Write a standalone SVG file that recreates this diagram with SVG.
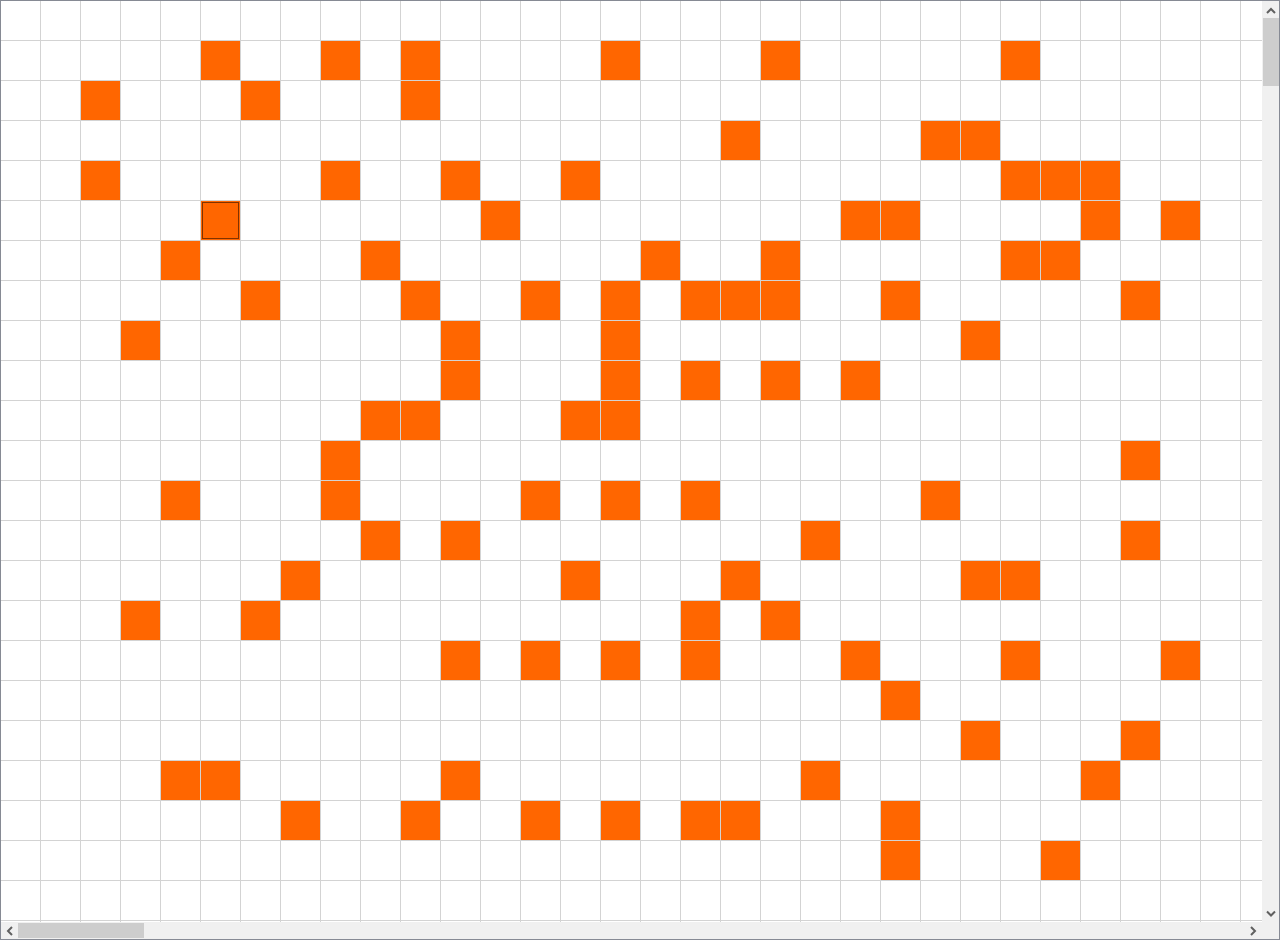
<svg xmlns="http://www.w3.org/2000/svg" width="1280" height="940" viewBox="0 0 1280 940">
<style>
.on{fill:#ff6600}
.track{fill:#f0f0f0}
.thumb{fill:#cdcdcd}
.arrow{fill:none;stroke:#606060;stroke-width:2}
</style>
<defs>
<pattern id="grid" patternUnits="userSpaceOnUse" x="0" y="0" width="40" height="40">
<path d="M0 0.5H40M0.5 0V40" stroke="#d3d3d3" stroke-width="1" fill="none"/>
</pattern>
</defs>
<rect x="0" y="0" width="1280" height="940" fill="#ffffff"/>
<rect x="0" y="0" width="1262" height="922" fill="url(#grid)"/>
<g id="cells">
<rect class="on" x="201" y="41" width="39" height="39"/>
<rect class="on" x="321" y="41" width="39" height="39"/>
<rect class="on" x="401" y="41" width="39" height="39"/>
<rect class="on" x="601" y="41" width="39" height="39"/>
<rect class="on" x="761" y="41" width="39" height="39"/>
<rect class="on" x="1001" y="41" width="39" height="39"/>
<rect class="on" x="81" y="81" width="39" height="39"/>
<rect class="on" x="241" y="81" width="39" height="39"/>
<rect class="on" x="401" y="81" width="39" height="39"/>
<rect class="on" x="721" y="121" width="39" height="39"/>
<rect class="on" x="921" y="121" width="39" height="39"/>
<rect class="on" x="961" y="121" width="39" height="39"/>
<rect class="on" x="81" y="161" width="39" height="39"/>
<rect class="on" x="321" y="161" width="39" height="39"/>
<rect class="on" x="441" y="161" width="39" height="39"/>
<rect class="on" x="561" y="161" width="39" height="39"/>
<rect class="on" x="1001" y="161" width="39" height="39"/>
<rect class="on" x="1041" y="161" width="39" height="39"/>
<rect class="on" x="1081" y="161" width="39" height="39"/>
<rect class="on" x="201" y="201" width="39" height="39"/>
<rect class="on" x="481" y="201" width="39" height="39"/>
<rect class="on" x="841" y="201" width="39" height="39"/>
<rect class="on" x="881" y="201" width="39" height="39"/>
<rect class="on" x="1081" y="201" width="39" height="39"/>
<rect class="on" x="1161" y="201" width="39" height="39"/>
<rect class="on" x="161" y="241" width="39" height="39"/>
<rect class="on" x="361" y="241" width="39" height="39"/>
<rect class="on" x="641" y="241" width="39" height="39"/>
<rect class="on" x="761" y="241" width="39" height="39"/>
<rect class="on" x="1001" y="241" width="39" height="39"/>
<rect class="on" x="1041" y="241" width="39" height="39"/>
<rect class="on" x="241" y="281" width="39" height="39"/>
<rect class="on" x="401" y="281" width="39" height="39"/>
<rect class="on" x="521" y="281" width="39" height="39"/>
<rect class="on" x="601" y="281" width="39" height="39"/>
<rect class="on" x="681" y="281" width="39" height="39"/>
<rect class="on" x="721" y="281" width="39" height="39"/>
<rect class="on" x="761" y="281" width="39" height="39"/>
<rect class="on" x="881" y="281" width="39" height="39"/>
<rect class="on" x="1121" y="281" width="39" height="39"/>
<rect class="on" x="121" y="321" width="39" height="39"/>
<rect class="on" x="441" y="321" width="39" height="39"/>
<rect class="on" x="601" y="321" width="39" height="39"/>
<rect class="on" x="961" y="321" width="39" height="39"/>
<rect class="on" x="441" y="361" width="39" height="39"/>
<rect class="on" x="601" y="361" width="39" height="39"/>
<rect class="on" x="681" y="361" width="39" height="39"/>
<rect class="on" x="761" y="361" width="39" height="39"/>
<rect class="on" x="841" y="361" width="39" height="39"/>
<rect class="on" x="361" y="401" width="39" height="39"/>
<rect class="on" x="401" y="401" width="39" height="39"/>
<rect class="on" x="561" y="401" width="39" height="39"/>
<rect class="on" x="601" y="401" width="39" height="39"/>
<rect class="on" x="321" y="441" width="39" height="39"/>
<rect class="on" x="1121" y="441" width="39" height="39"/>
<rect class="on" x="161" y="481" width="39" height="39"/>
<rect class="on" x="321" y="481" width="39" height="39"/>
<rect class="on" x="521" y="481" width="39" height="39"/>
<rect class="on" x="601" y="481" width="39" height="39"/>
<rect class="on" x="681" y="481" width="39" height="39"/>
<rect class="on" x="921" y="481" width="39" height="39"/>
<rect class="on" x="361" y="521" width="39" height="39"/>
<rect class="on" x="441" y="521" width="39" height="39"/>
<rect class="on" x="801" y="521" width="39" height="39"/>
<rect class="on" x="1121" y="521" width="39" height="39"/>
<rect class="on" x="281" y="561" width="39" height="39"/>
<rect class="on" x="561" y="561" width="39" height="39"/>
<rect class="on" x="721" y="561" width="39" height="39"/>
<rect class="on" x="961" y="561" width="39" height="39"/>
<rect class="on" x="1001" y="561" width="39" height="39"/>
<rect class="on" x="121" y="601" width="39" height="39"/>
<rect class="on" x="241" y="601" width="39" height="39"/>
<rect class="on" x="681" y="601" width="39" height="39"/>
<rect class="on" x="761" y="601" width="39" height="39"/>
<rect class="on" x="441" y="641" width="39" height="39"/>
<rect class="on" x="521" y="641" width="39" height="39"/>
<rect class="on" x="601" y="641" width="39" height="39"/>
<rect class="on" x="681" y="641" width="39" height="39"/>
<rect class="on" x="841" y="641" width="39" height="39"/>
<rect class="on" x="1001" y="641" width="39" height="39"/>
<rect class="on" x="1161" y="641" width="39" height="39"/>
<rect class="on" x="881" y="681" width="39" height="39"/>
<rect class="on" x="961" y="721" width="39" height="39"/>
<rect class="on" x="1121" y="721" width="39" height="39"/>
<rect class="on" x="161" y="761" width="39" height="39"/>
<rect class="on" x="201" y="761" width="39" height="39"/>
<rect class="on" x="441" y="761" width="39" height="39"/>
<rect class="on" x="801" y="761" width="39" height="39"/>
<rect class="on" x="1081" y="761" width="39" height="39"/>
<rect class="on" x="281" y="801" width="39" height="39"/>
<rect class="on" x="401" y="801" width="39" height="39"/>
<rect class="on" x="521" y="801" width="39" height="39"/>
<rect class="on" x="601" y="801" width="39" height="39"/>
<rect class="on" x="681" y="801" width="39" height="39"/>
<rect class="on" x="721" y="801" width="39" height="39"/>
<rect class="on" x="881" y="801" width="39" height="39"/>
<rect class="on" x="881" y="841" width="39" height="39"/>
<rect class="on" x="1041" y="841" width="39" height="39"/>
</g>
<rect x="202.5" y="202.5" width="36" height="36" fill="none" stroke="#000000" stroke-width="1" stroke-dasharray="1 1"/>
<g id="scrollbars">
<rect class="track" x="1262" y="1" width="17" height="938"/>
<rect class="track" x="1" y="922" width="1278" height="17"/>
<rect class="thumb" x="1263" y="18" width="16" height="68"/>
<rect class="thumb" x="18" y="923" width="126" height="15"/>
<polyline class="arrow" points="1267,13 1271,9 1275,13"/>
<polyline class="arrow" points="1267,911.5 1271,915.5 1275,911.5"/>
<polyline class="arrow" points="12,927 8,931 12,935"/>
<polyline class="arrow" points="1251,927 1255,931 1251,935"/>
</g>
<rect x="0.5" y="0.5" width="1279" height="939" fill="none" stroke="#868a94" stroke-width="1"/>
</svg>
